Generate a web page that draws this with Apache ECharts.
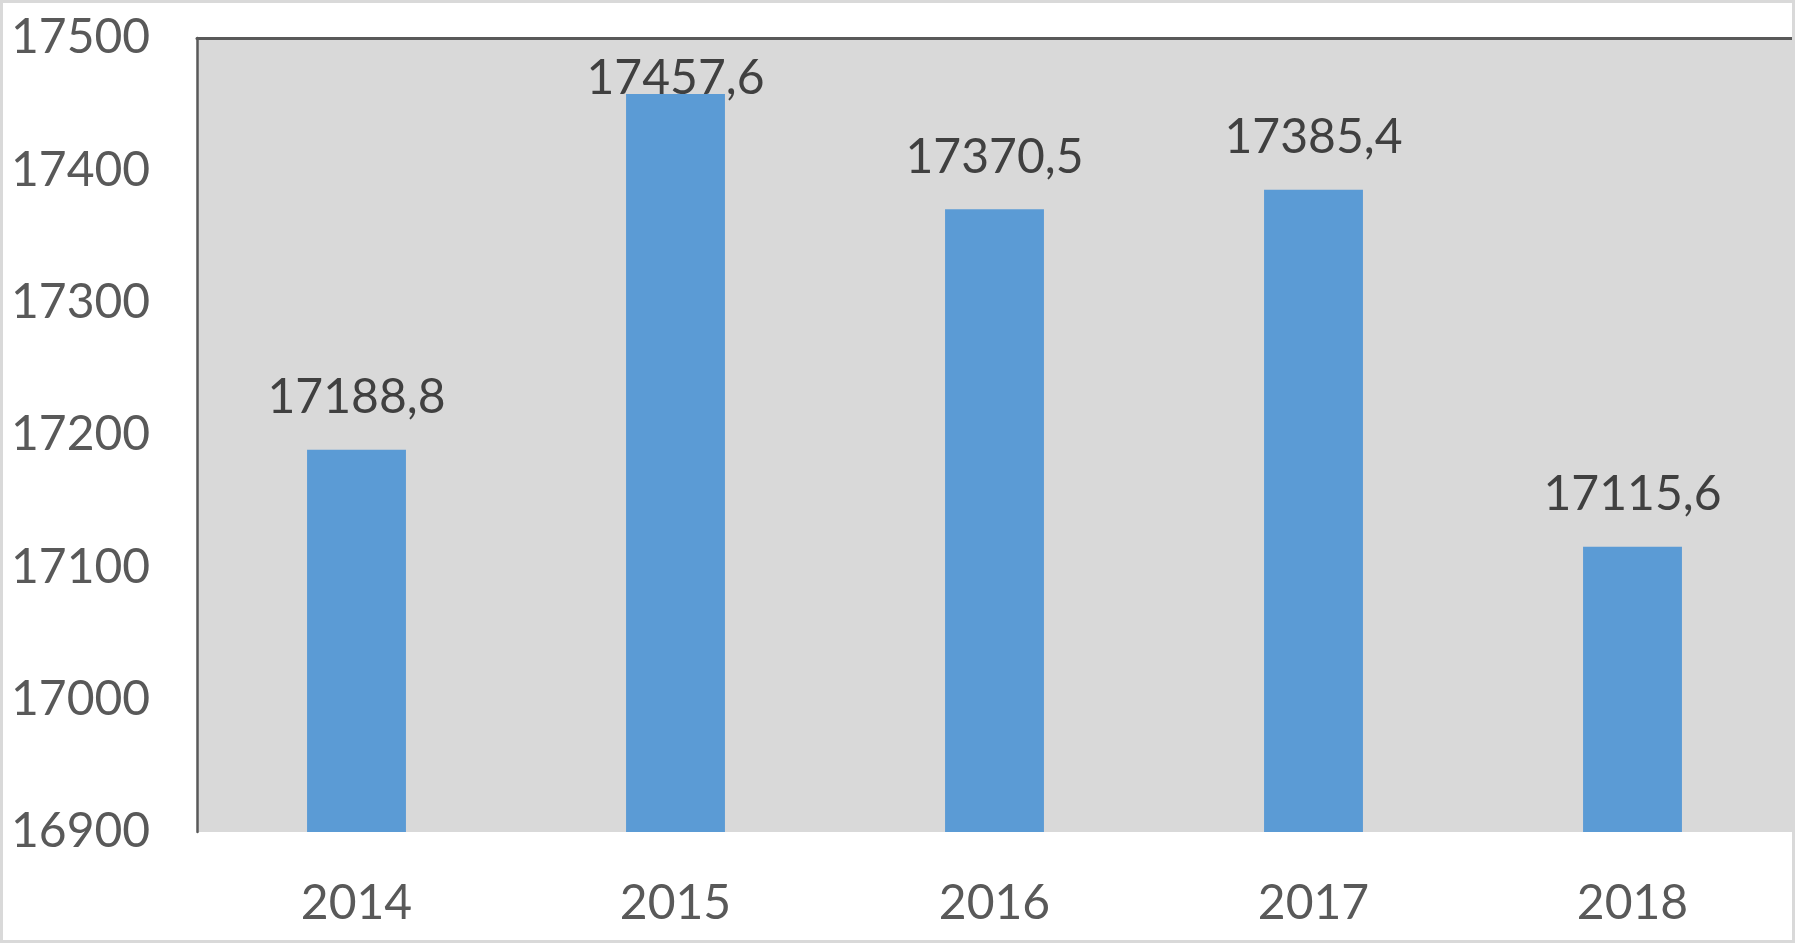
<!DOCTYPE html>
<html>
<head>
<meta charset="utf-8">
<script src="https://cdn.jsdelivr.net/npm/echarts@6/dist/echarts.min.js"></script>
<style>
html,body{margin:0;padding:0;background:#fff;}
#c{width:1795px;height:943px;}
</style>
</head>
<body>
<div id="c"></div>
<script>
const categories = ['2014', '2015', '2016', '2017', '2018'];
const values = [17188.8, 17457.6, 17370.5, 17385.4, 17115.6];
const yMin = 16900;
const yMax = 17500;
const yStep = 100;

const FONT = 'Lato';
const chart = echarts.init(document.getElementById('c'));
const seriesData = values.map((v, i) => {
  const item = { value: v };
  if (v > yMax - 60) {
    item.label = { offset: [0, 36] };
  }
  return item;
});

chart.setOption({
  animation: false,
  backgroundColor: '#ffffff',
  graphic: [{
    type: 'rect',
    shape: { x: 0, y: 0, width: 1795, height: 943 },
    style: { fill: 'none', stroke: '#d9d9d9', lineWidth: 6 },
    z: 100
  }],
  grid: {
    left: 197, top: 38, right: 3, bottom: 111,
    show: true, backgroundColor: '#d9d9d9', borderWidth: 0
  },
  xAxis: [{
    type: 'category',
    data: categories,
    position: 'bottom',
    axisLine: { show: false },
    axisTick: { show: false },
    axisLabel: { color: '#595959', fontFamily: FONT, fontSize: 48, margin: 48 }
  }, {
    type: 'category',
    data: categories,
    position: 'top',
    axisLine: { show: true, lineStyle: { color: '#595959', width: 3 } },
    axisTick: { show: false },
    axisLabel: { show: false }
  }],
  yAxis: {
    type: 'value',
    min: yMin, max: yMax, interval: yStep,
    axisLine: { show: true, lineStyle: { color: '#595959', width: 2.5 } },
    axisTick: { show: false },
    splitLine: { show: false },
    axisLabel: { color: '#595959', fontFamily: FONT, fontSize: 48, align: 'left', margin: 186, formatter: v => String(v) }
  },
  series: [{
    type: 'bar',
    data: seriesData,
    barWidth: '31%',
    itemStyle: { color: '#5b9bd5' },
    label: {
      show: true,
      position: 'top',
      distance: 24,
      lineHeight: 56,
      color: '#404040',
      fontFamily: FONT,
      fontSize: 48,
      formatter: p => p.value.toFixed(1).replace('.', ',')
    }
  }]
});
</script>
</body>
</html>
